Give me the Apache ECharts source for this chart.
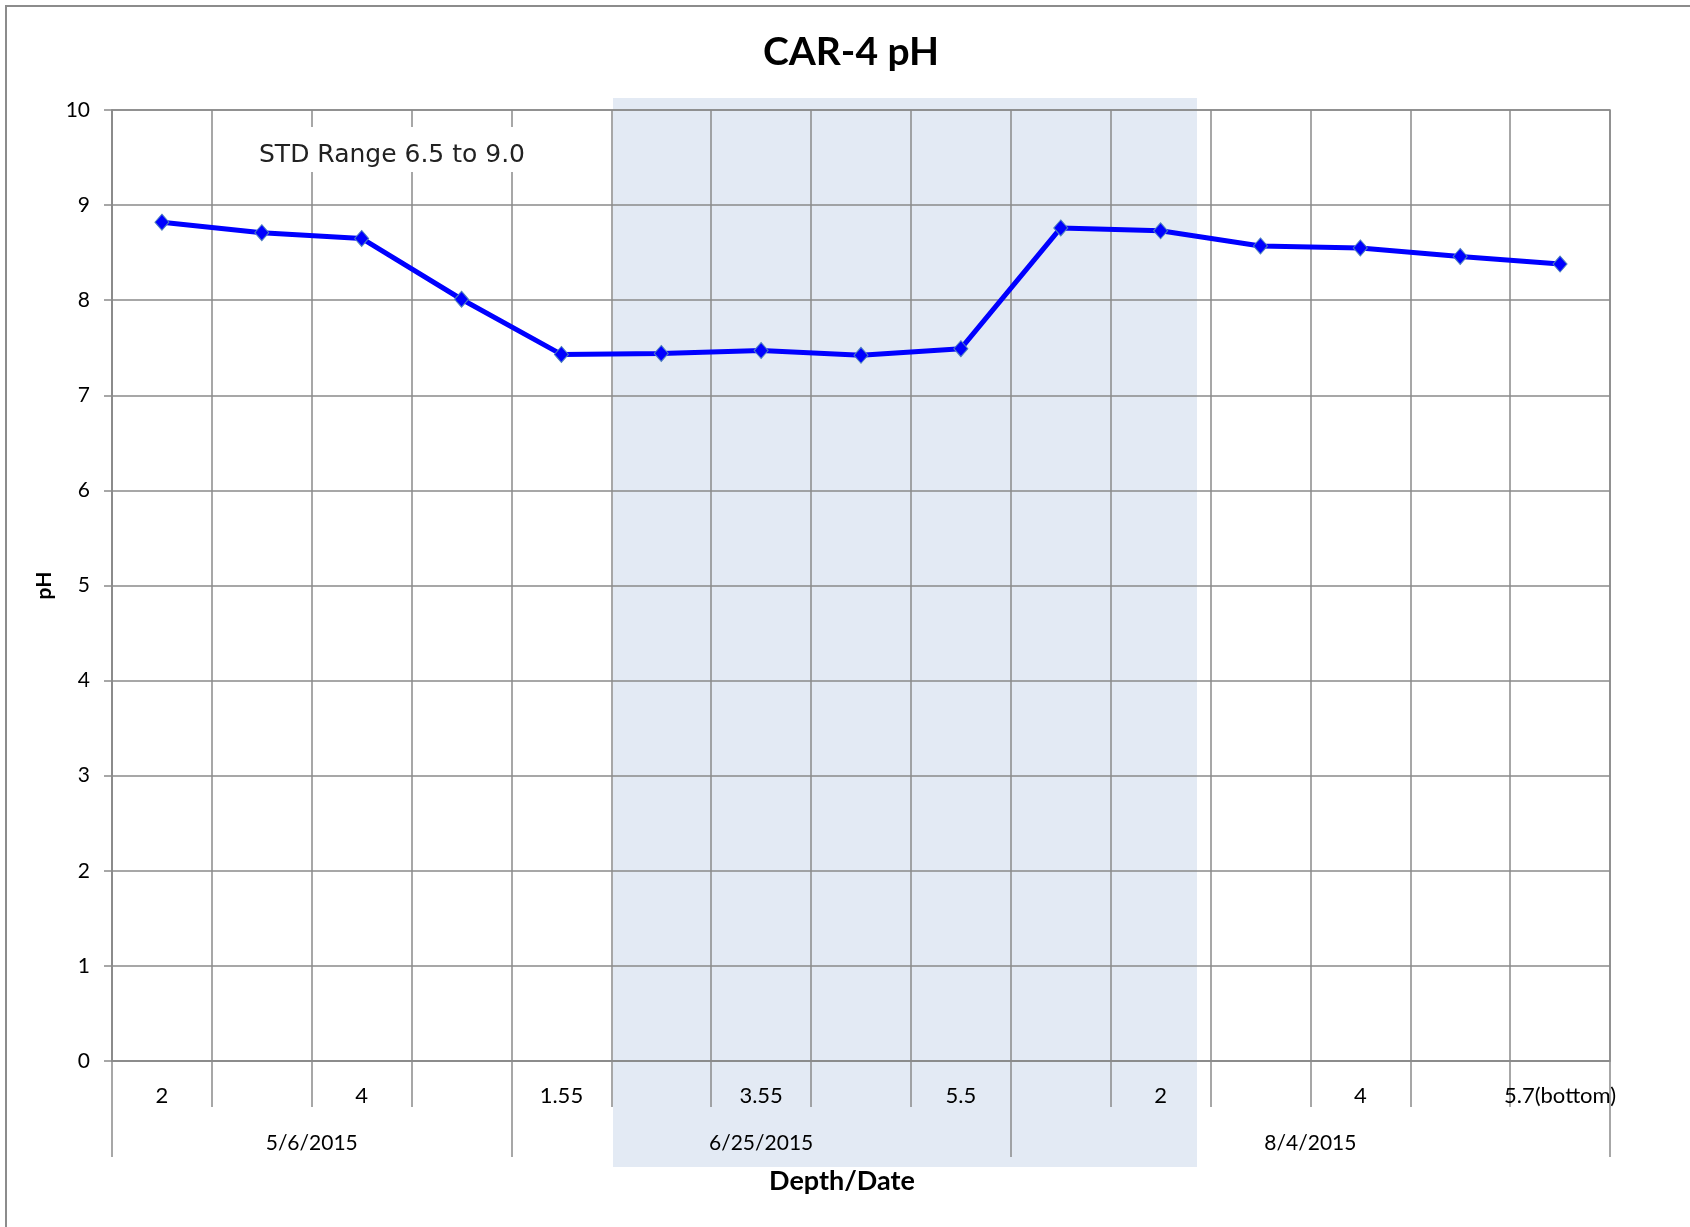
<!DOCTYPE html>
<html>
<head>
<meta charset="utf-8">
<script src="https://cdn.jsdelivr.net/npm/echarts@6/dist/echarts.min.js"></script>
<style>
html,body{margin:0;padding:0;background:#fff;}
#chart{width:1690px;height:1227px;}
</style>
</head>
<body>
<div id="chart"></div>
<script>
// Data
var depthLabels = ['2', '', '4', '', '1.55', '', '3.55', '', '5.5', '', '2', '', '4', '', '5.7(bottom)'];
var phValues = [8.82, 8.71, 8.65, 8.01, 7.43, 7.44, 7.47, 7.42, 7.49, 8.76, 8.73, 8.57, 8.55, 8.46, 8.38];
var dateLabels = ['5/6/2015', '6/25/2015', '8/4/2015'];
var dateGroupBounds = [0, 4, 9, 15];       // category boundaries of each sampling date
var dateLabelCenters = [2, 6.5, 12];        // centre of each date group
var yTicks = [0, 10, 1];                    // min, max, interval

var chart = echarts.init(document.getElementById('chart'), null, {renderer: 'canvas'});
var FONT = 'Lato, "Open Sans", sans-serif';
var GRID = '#8a8a8a';

var option = {
  backgroundColor: '#ffffff',
  animation: false,
  title: [
    {
      text: 'CAR-4 pH',
      left: 846,
      top: 28,
      textAlign: 'center',
      textStyle: {fontFamily: FONT, fontSize: 39, fontWeight: 'bold', color: '#000'}
    },
    {
      text: 'Depth/Date',
      left: 837,
      top: 1163,
      textAlign: 'center',
      textStyle: {fontFamily: FONT, fontSize: 27, fontWeight: 'bold', color: '#000'}
    }
  ],
  grid: {
    left: 112, right: 80, top: 110, bottom: 166,
    show: true, borderColor: GRID, borderWidth: 1.5, backgroundColor: 'transparent'
  },
  xAxis: [
    {
      type: 'category',
      data: depthLabels,
      boundaryGap: true,
      position: 'bottom',
      axisLine: {show: true, lineStyle: {color: GRID, width: 1.5}},
      axisTick: {show: true, interval: 0, alignWithLabel: false, length: 46, lineStyle: {color: GRID, width: 1.5}},
      axisLabel: {interval: 0, margin: 24, fontFamily: FONT, fontSize: 22, color: '#000'},
      splitLine: {show: true, interval: 0, lineStyle: {color: GRID, width: 1.5}}
    },
    {
      type: 'value',
      min: 0, max: 15,
      position: 'bottom',
      axisLine: {show: false},
      axisTick: {show: true, customValues: dateGroupBounds, length: 96, lineStyle: {color: GRID, width: 1.5}},
      axisLabel: {
        show: true, customValues: dateLabelCenters, margin: 72,
        fontFamily: FONT, fontSize: 21, color: '#000',
        formatter: function (v) {
          var i = dateLabelCenters.indexOf(v);
          return i >= 0 ? dateLabels[i] : '';
        }
      },
      splitLine: {show: false}
    }
  ],
  yAxis: {
    type: 'value',
    min: yTicks[0], max: yTicks[1], interval: yTicks[2],
    name: 'pH',
    nameLocation: 'middle',
    nameGap: 57,
    nameRotate: 90,
    nameTextStyle: {fontFamily: FONT, fontSize: 21, fontWeight: 'bold', color: '#000'},
    axisLine: {show: true, lineStyle: {color: GRID, width: 1.5}},
    axisTick: {show: true, inside: false, length: 8, lineStyle: {color: GRID, width: 1.5}},
    axisLabel: {margin: 22, fontFamily: FONT, fontSize: 21, color: '#000'},
    splitLine: {show: true, lineStyle: {color: GRID, width: 1.5}}
  },
  series: [{
    type: 'line',
    xAxisIndex: 0,
    data: phValues,
    symbol: 'diamond',
    symbolSize: [14, 16],
    lineStyle: {color: '#0000FF', width: 5},
    itemStyle: {color: '#0000FF', borderColor: '#4F81BD', borderWidth: 1},
    z: 5
  }],
  graphic: [
    {
      type: 'rect', z: -10, silent: true,
      shape: {x: 613, y: 98, width: 584, height: 1069},
      style: {fill: '#E3EAF4'}
    },
    {
      type: 'rect', z: -20, silent: true,
      shape: {x: 6, y: 6, width: 1800, height: 1400},
      style: {fill: 'none', stroke: '#8c8c8c', lineWidth: 2}
    },
    {
      type: 'rect', z: 50, silent: true,
      shape: {x: 246, y: 127, width: 294, height: 45},
      style: {fill: '#ffffff'}
    },
    {
      type: 'text', z: 51, silent: true,
      x: 392, y: 155,
      style: {
        text: 'STD Range 6.5 to 9.0',
        font: '25px "DejaVu Sans", sans-serif',
        fill: '#222',
        align: 'center',
        verticalAlign: 'middle'
      }
    }
  ]
};
chart.setOption(option);
</script>
</body>
</html>
